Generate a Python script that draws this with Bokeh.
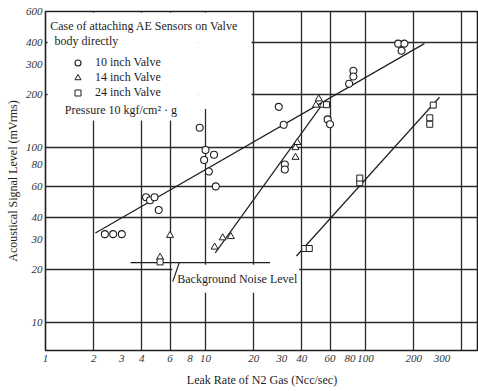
from bokeh.plotting import figure
from bokeh.models import (FixedTicker, BoxAnnotation, Label, Legend, LegendItem,
                          Range1d, PrintfTickFormatter)
from bokeh.embed import file_html
from bokeh.resources import INLINE

# ---------------- data ----------------
valve10_x = [2.35, 2.65, 3.0, 4.25, 4.5, 4.8, 5.1, 9.2, 10.0, 11.3, 9.8, 10.5, 11.6,
             28.7, 30.8, 31.3, 31.3, 58, 60, 79, 84, 84, 160, 175, 168]
valve10_y = [32, 32, 32, 52, 50, 52, 44, 130, 97, 91, 85, 73, 60,
             171, 135, 80, 75, 145, 136, 232, 275, 255, 393, 393, 358]
valve14_x = [5.2, 6.0, 11.4, 12.8, 14.4, 36.5, 36.5, 37.5, 51, 49, 54]
valve14_y = [23.6, 31.5, 27, 30.5, 31, 88, 100, 107, 190, 175, 175]
valve24_x = [5.2, 41.7, 44.5, 92, 92, 57, 265, 252, 252]
valve24_y = [22.2, 26.5, 26.5, 63, 67, 176, 175, 148, 136]

fit10_x = [2.05, 233]
fit10_y = [32.5, 393]
fit14_x = [11.5, 53]
fit14_y = [25, 174]
fit24_x = [37, 290]
fit24_y = [24, 194]
noise_x = [3.4, 25.3]
noise_y = [22, 22]
leader_x = [6.85, 6.25]
leader_y = [22, 17.2]

x_ticks = [1, 2, 3, 4, 6, 8, 10, 20, 30, 40, 60, 80, 100, 200, 300]
y_ticks = [10, 20, 30, 40, 60, 80, 100, 200, 300, 400, 600]
x_grid = [2, 4, 6, 10, 20, 40, 60, 100, 200, 400]
y_grid = [10, 20, 40, 60, 100, 200, 400]

series_labels = ["10 inch Valve", "14 inch Valve", "24 inch Valve"]
title_line1 = "Case of attaching AE Sensors on Valve"
title_line2 = "body directly"
pressure_text = "Pressure 10 kgf/cm\u00b2 \u00b7 g"
noise_text = "Background Noise Level"

FONT = "Liberation Serif"
INK = "#1e1e1e"

p = figure(width=478, height=391, x_axis_type="log", y_axis_type="log",
           x_range=Range1d(1, 508), y_range=Range1d(6.92, 600),
           output_backend="svg", toolbar_location=None,
           min_border_left=45, min_border_right=0, min_border_top=11, min_border_bottom=41,
           x_axis_label="Leak Rate of N2 Gas (Ncc/sec)",
           y_axis_label="Acoustical Signal Level (mVrms)")

p.background_fill_color = "white"
p.border_fill_color = "white"
p.outline_line_color = INK
p.outline_line_width = 1.6

p.xaxis.ticker = FixedTicker(ticks=x_ticks)
p.yaxis.ticker = FixedTicker(ticks=y_ticks)
p.xgrid.ticker = FixedTicker(ticks=x_grid)
p.ygrid.ticker = FixedTicker(ticks=y_grid)
for g in (p.xgrid, p.ygrid):
    g.grid_line_color = "#2a2a2a"
    g.grid_line_width = 1.3

for ax in (p.xaxis, p.yaxis):
    ax.formatter = PrintfTickFormatter(format="%d")
    ax.axis_line_color = None
    ax.major_tick_line_color = None
    ax.minor_tick_line_color = None
    ax.major_tick_out = 0
    ax.major_tick_in = 0
    ax.minor_tick_out = 0
    ax.minor_tick_in = 0
    ax.major_label_text_font = FONT
    ax.major_label_text_font_style = "italic"
    ax.major_label_text_font_size = "11px"
    ax.major_label_text_color = "#333333"
    ax.axis_label_text_font = FONT
    ax.axis_label_text_font_style = "normal"
    ax.axis_label_text_font_size = "12px"
    ax.axis_label_text_color = INK
p.xaxis.major_label_standoff = 4
p.xaxis.axis_label_standoff = 8
p.yaxis.major_label_standoff = 3
p.yaxis.axis_label_standoff = 3

# white areas hiding grid lines behind the annotation texts
for l, r, b, t in [(1.03, 9.0, 143, 590), (9.0, 19.4, 166, 590), (6.2, 38.5, 14.8, 21.4)]:
    p.add_layout(BoxAnnotation(left=l, right=r, bottom=b, top=t, fill_color="white",
                               fill_alpha=1, line_alpha=0, level="underlay"))

# fitted lines
for xs, ys in [(fit10_x, fit10_y), (fit14_x, fit14_y), (fit24_x, fit24_y)]:
    p.line(xs, ys, line_color=INK, line_width=1.2)
p.line(noise_x, noise_y, line_color=INK, line_width=1.3)
p.line(leader_x, leader_y, line_color=INK, line_width=1.2)

r10 = p.scatter(valve10_x, valve10_y, marker="circle", size=7, fill_color="white",
                line_color=INK, line_width=1.1)
r14 = p.scatter(valve14_x, valve14_y, marker="triangle", size=7, fill_color="white",
                line_color=INK, line_width=1.0)
r24 = p.scatter(valve24_x, valve24_y, marker="square", size=6, fill_color="white",
                line_color=INK, line_width=1.0)

# texts
p.add_layout(Label(x=1.07, y=498, text=title_line1, text_baseline="middle",
                   text_font=FONT, text_font_size="12px", text_color=INK,
                   background_fill_color="white", background_fill_alpha=1))
p.add_layout(Label(x=1.14, y=409, text=title_line2, text_baseline="middle",
                   text_font=FONT, text_font_size="12px", text_color=INK))
p.add_layout(Label(x=1.32, y=163, text=pressure_text, text_baseline="middle",
                   text_font=FONT, text_font_size="12px", text_color=INK))
p.add_layout(Label(x=6.66, y=17.8, text=noise_text, text_baseline="middle",
                   text_font=FONT, text_font_size="12px", text_color=INK))

legend = Legend(items=[LegendItem(label=series_labels[0], renderers=[r10]),
                       LegendItem(label=series_labels[1], renderers=[r14]),
                       LegendItem(label=series_labels[2], renderers=[r24])],
                location=(25, 250), orientation="vertical",
                label_text_font=FONT, label_text_font_size="12px", label_text_color=INK,
                glyph_width=15, glyph_height=15, label_height=15, label_standoff=10,
                spacing=0, padding=0, margin=0, border_line_color=None,
                background_fill_alpha=0)
p.add_layout(legend)

open("out.html", "w").write(file_html(p, INLINE))
